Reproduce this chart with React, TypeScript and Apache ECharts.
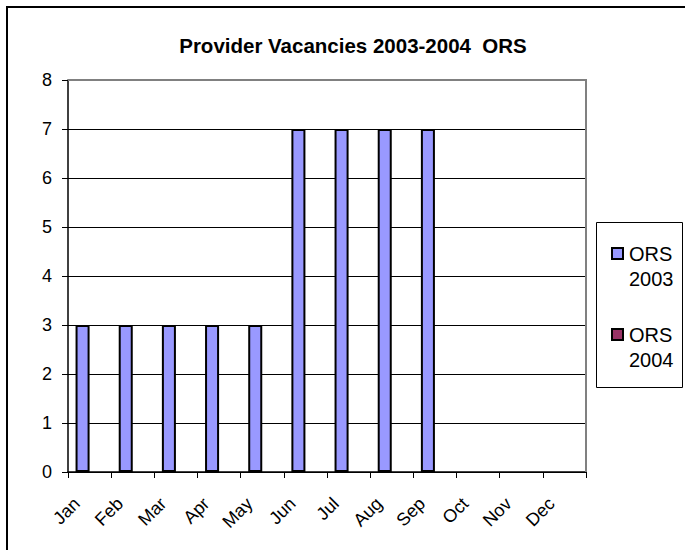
import React, { useEffect, useRef } from "react";
import * as echarts from "echarts";

const categories = ["Jan", "Feb", "Mar", "Apr", "May", "Jun", "Jul", "Aug", "Sep", "Oct", "Nov", "Dec"];
const ors2003 = [3, 3, 3, 3, 3, 7, 7, 7, 7, null, null, null];
const ors2004 = [null, null, null, null, null, null, null, null, null, null, null, null];
const seriesNames = ["ORS 2003", "ORS 2004"];
const yTicks = { min: 0, max: 8, interval: 1 };
const title = "Provider Vacancies 2003-2004  ORS";

export default function App() {
  const ref = useRef<HTMLDivElement>(null);
  useEffect(() => {
    document.body.style.margin = "0";
    const chart = echarts.init(ref.current!, null, { renderer: "svg" });
    const font = "Liberation Sans";
    chart.setOption({
      animation: false,
      backgroundColor: "#ffffff",
      title: {
        text: title,
        left: 353,
        textAlign: "center",
        top: 35,
        padding: 0,
        textStyle: { fontFamily: font, fontSize: 20.5, lineHeight: 21, fontWeight: "bold", color: "#000" },
      },
      grid: { left: 68, right: 99, top: 80, bottom: 78, show: false },
      legend: {
        orient: "vertical",
        left: 611,
        top: 216,
        padding: 0,
        itemWidth: 11,
        itemHeight: 11,
        itemGap: 6,
        icon: "rect",
        data: seriesNames,
        formatter: (n: string) => "{s|}\n" + n.replace(" ", "\n"),
        textStyle: {
          fontFamily: font,
          fontSize: 20,
          color: "#000",
          lineHeight: 25,
          padding: [0, 0, 0, 1],
          rich: { s: { lineHeight: 25, fontSize: 20 } },
        },
      },
      xAxis: {
        type: "category",
        data: categories,
        boundaryGap: true,
        axisLine: { lineStyle: { color: "#000", width: 1.5 } },
        axisTick: { show: true, length: 6, alignWithLabel: false, lineStyle: { color: "#000" } },
        axisLabel: {
          rotate: 45,
          fontFamily: font,
          fontSize: 18,
          color: "#000",
          margin: 16,
          padding: [0, 18, 0, 0],
          interval: 0,
        },
        splitLine: { show: false },
      },
      yAxis: {
        type: "value",
        min: yTicks.min,
        max: yTicks.max,
        interval: yTicks.interval,
        axisLine: { show: true, lineStyle: { color: "#000", width: 1.5 } },
        axisTick: { show: true, length: 6, lineStyle: { color: "#000" } },
        axisLabel: { fontFamily: font, fontSize: 18, color: "#000", margin: 16 },
        splitLine: { show: true, lineStyle: { color: "#000", width: 1 } },
      },
      series: [
        {
          name: seriesNames[0],
          type: "bar",
          data: ors2003,
          barGap: "0%",
          barCategoryGap: "35%",
          itemStyle: { color: "#9999FF", borderColor: "#000", borderWidth: 2 },
        },
        {
          name: seriesNames[1],
          type: "bar",
          data: ors2004,
          barGap: "0%",
          barCategoryGap: "35%",
          itemStyle: { color: "#993366", borderColor: "#000", borderWidth: 2 },
        },
      ],
      graphic: [
        {
          type: "rect",
          shape: { x: 7, y: 7, width: 700, height: 570 },
          style: { fill: "none", stroke: "#000", lineWidth: 2 },
          silent: true,
        },
        {
          type: "polyline",
          shape: { points: [[68, 80], [586, 80], [586, 472]] },
          style: { fill: "none", stroke: "#808080", lineWidth: 2 },
          silent: true,
          z: 10,
        },
        {
          type: "rect",
          shape: { x: 596.5, y: 222.5, width: 86, height: 165 },
          style: { fill: "none", stroke: "#000", lineWidth: 1 },
          silent: true,
        },
      ],
    });
    return () => chart.dispose();
  }, []);
  return <div ref={ref} style={{ width: 685, height: 550 }} />;
}
